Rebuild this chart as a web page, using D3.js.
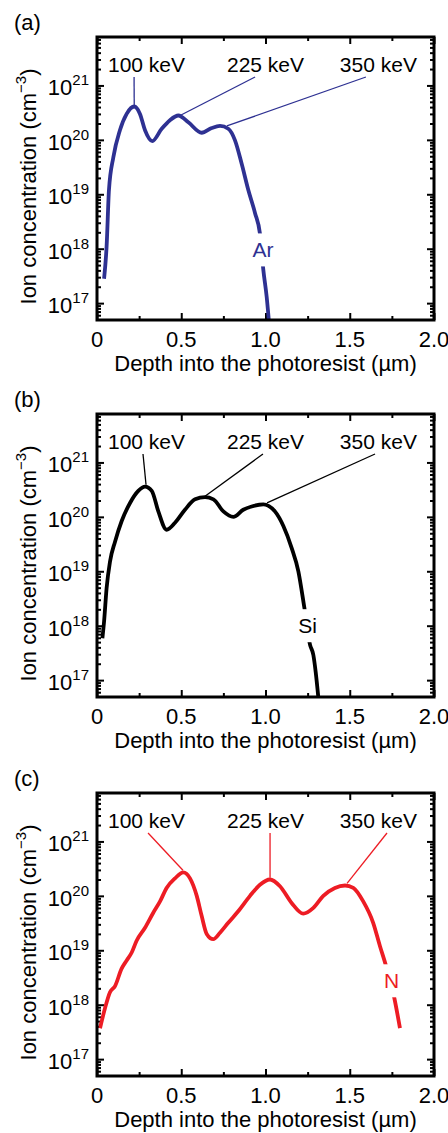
<!DOCTYPE html>
<html>
<head>
<meta charset="utf-8">
<script src="https://cdn.jsdelivr.net/npm/d3@7"></script>
<style>
  body { margin: 0; background: #fff; }
  text { font-family: "Liberation Sans", Arial, Helvetica, sans-serif; }
</style>
</head>
<body>
<div id="chart"></div>
<script>
// 패널별 데이터 (깊이: µm, 농도: cm^-3)
const arDepth = [0.042, 0.057, 0.071, 0.097, 0.136, 0.176, 0.221, 0.255, 0.285, 0.328, 0.384, 0.433, 0.483,
  0.542, 0.621, 0.681, 0.730, 0.779, 0.819, 0.859, 0.898, 0.938, 0.967, 0.987, 1.007, 1.022];
const arConc = [2.8e17, 1.1e18, 1.2e19, 4.8e19, 1.5e20, 3.0e20, 4.1e20, 3.0e20, 1.5e20, 9.5e19, 1.6e20, 2.3e20, 2.8e20,
  2.1e20, 1.35e20, 1.65e20, 1.8e20, 1.6e20, 9.8e19, 3.6e19, 1.2e19, 4.5e18, 1.9e18, 4.1e17, 1.3e17, 4.0e16];

const siDepth = [0.032, 0.042, 0.057, 0.077, 0.107, 0.146, 0.196, 0.245, 0.285, 0.325, 0.364, 0.413, 0.463,
  0.522, 0.582, 0.641, 0.691, 0.750, 0.809, 0.868, 0.918, 0.987, 1.056, 1.106, 1.155, 1.195, 1.230, 1.264,
  1.284, 1.298, 1.316];
const siConc = [5.9e17, 1.2e18, 4.9e18, 1.5e19, 3.5e19, 8.3e19, 1.8e20, 3.0e20, 3.6e20, 3.0e20, 1.26e20, 5.8e19, 7.8e19,
  1.35e20, 2.1e20, 2.3e20, 2.1e20, 1.26e20, 1.0e20, 1.35e20, 1.55e20, 1.7e20, 1.26e20, 6.8e19, 2.7e19, 1.0e19, 2.2e18, 4.5e17,
  2.9e17, 1.4e17, 4.0e16];

const nDepth = [0.018, 0.047, 0.077, 0.107, 0.146, 0.176, 0.206, 0.235, 0.285, 0.334, 0.374, 0.413, 0.463, 0.512,
  0.552, 0.592, 0.621, 0.651, 0.690, 0.730, 0.779, 0.838, 0.908, 0.967, 1.027, 1.086, 1.155, 1.224, 1.284,
  1.343, 1.412, 1.472, 1.521, 1.580, 1.639, 1.679, 1.715, 1.763, 1.798];
const nConc = [3.7e17, 8.5e17, 1.7e18, 2.2e18, 4.6e18, 6.5e18, 9.1e18, 1.5e19, 2.6e19, 4.9e19, 7.9e19, 1.4e20, 2.1e20, 2.7e20,
  2.1e20, 1.0e20, 4.3e19, 2.0e19, 1.6e19, 2.1e19, 3.2e19, 5.2e19, 1.0e20, 1.6e20, 2.0e20, 1.5e20, 7.4e19, 4.7e19, 6.0e19,
  1.0e20, 1.4e20, 1.55e20, 1.4e20, 7.9e19, 3.2e19, 1.2e19, 5.2e18, 1.4e18, 3.7e17];

// 에너지 라벨과 지시선
const energyLabels = ["100 keV", "225 keV", "350 keV"];
const arLeaderTop = [0.220, 0.938, 1.596];
const arLeaderEnd = [[0.221, 4.3e20], [0.493, 2.8e20], [0.771, 1.8e20]];
const siLeaderTop = [0.273, 0.985, 1.650];
const siLeaderEnd = [[0.291, 3.9e20], [0.641, 2.4e20], [1.009, 1.8e20]];
const nLeaderTop = [0.303, 1.027, 1.721];
const nLeaderEnd = [[0.510, 2.95e20], [1.027, 2.15e20], [1.484, 1.7e20]];

// 축 눈금
const xTicks = [0, 0.5, 1.0, 1.5, 2.0];
const xTickLabels = ["0", "0.5", "1.0", "1.5", "2.0"];
const xMinorTicks = [0.25, 0.75, 1.25, 1.75];
const yExponents = [17, 18, 19, 20, 21];

const panels = [
  { tag: "(a)", ion: "Ar", color: "#2e3192", depth: arDepth, conc: arConc, leaderTop: arLeaderTop, leaderEnd: arLeaderEnd, ionAt: [0.985, 9.5e17] },
  { tag: "(b)", ion: "Si", color: "#000000", depth: siDepth, conc: siConc, leaderTop: siLeaderTop, leaderEnd: siLeaderEnd, ionAt: [1.25, 1.0e18] },
  { tag: "(c)", ion: "N", color: "#ed1c24", depth: nDepth, conc: nConc, leaderTop: nLeaderTop, leaderEnd: nLeaderEnd, ionAt: [1.749, 2.75e18] }
];

// 레이아웃
const W = 448, H = 1133;
const plotLeft = 97, plotW = 337, plotH = 283;
const panelTops = [37, 414, 793];
const labelX = [0.294, 1.0, 1.67];

const svg = d3.select("#chart").append("svg")
  .attr("width", W).attr("height", H)
  .style("background", "white");

const x = d3.scaleLinear().domain([0, 2]).range([0, plotW]);
const y = d3.scaleLog().domain([Math.pow(10, 16.69), Math.pow(10, 21.89)]).range([plotH, 0]);

// 로그 보조 눈금
const yMinor = [];
for (let e = 16; e <= 21; e++) {
  for (let m = 2; m <= 9; m++) {
    const v = m * Math.pow(10, e);
    if (v >= y.domain()[0] && v <= y.domain()[1]) yMinor.push(v);
  }
}

svg.append("defs").append("clipPath").attr("id", "plot-clip")
  .append("rect").attr("width", plotW).attr("height", plotH);

function drawPanel(p, i) {
  const g = svg.append("g").attr("transform", `translate(${plotLeft},${panelTops[i]})`);

  // 안쪽 눈금 (4면)
  const tickStyle = sel => {
    sel.select(".domain").remove();
    sel.selectAll("line").attr("stroke", "#000").attr("stroke-width", 2);
  };
  g.append("g").attr("transform", `translate(0,${plotH})`)
    .call(d3.axisBottom(x).tickValues(xTicks).tickSize(-7).tickFormat("")).call(tickStyle);
  g.append("g").attr("transform", `translate(0,${plotH})`)
    .call(d3.axisBottom(x).tickValues(xMinorTicks).tickSize(-4).tickFormat("")).call(tickStyle);
  g.append("g").call(d3.axisTop(x).tickValues(xTicks).tickSize(-7).tickFormat("")).call(tickStyle);
  g.append("g").call(d3.axisTop(x).tickValues(xMinorTicks).tickSize(-4).tickFormat("")).call(tickStyle);

  const yMajor = yExponents.map(e => Math.pow(10, e));
  g.append("g").call(d3.axisLeft(y).tickValues(yMajor).tickSize(-7).tickFormat("")).call(tickStyle);
  g.append("g").call(d3.axisLeft(y).tickValues(yMinor).tickSize(-4).tickFormat("")).call(tickStyle);
  g.append("g").attr("transform", `translate(${plotW},0)`)
    .call(d3.axisRight(y).tickValues(yMajor).tickSize(-7).tickFormat("")).call(tickStyle);
  g.append("g").attr("transform", `translate(${plotW},0)`)
    .call(d3.axisRight(y).tickValues(yMinor).tickSize(-4).tickFormat("")).call(tickStyle);

  // x 눈금 라벨
  g.selectAll(".xlab").data(xTicks).enter().append("text")
    .attr("x", d => x(d)).attr("y", plotH + 27)
    .attr("text-anchor", "middle").attr("font-size", 22)
    .text((d, k) => xTickLabels[k]);

  // y 눈금 라벨 10^n
  const yl = g.selectAll(".ylab").data(yExponents).enter().append("text")
    .attr("x", -8).attr("y", d => y(Math.pow(10, d)) + 10)
    .attr("text-anchor", "end").attr("font-size", 22);
  yl.append("tspan").text("10");
  yl.append("tspan").attr("font-size", 15).attr("dy", -10).text(d => d);

  // 축 제목
  g.append("text").attr("x", plotW / 2).attr("y", plotH + 51)
    .attr("text-anchor", "middle").attr("font-size", 22)
    .text("Depth into the photoresist (µm)");
  const yt = g.append("text")
    .attr("transform", `translate(${36 - plotLeft},${plotH / 2 + 8}) rotate(-90)`)
    .attr("text-anchor", "middle").attr("font-size", 22);
  yt.append("tspan").text("Ion concentration (cm");
  yt.append("tspan").attr("font-size", 15).attr("dy", -10).text("−3");
  yt.append("tspan").attr("dy", 10).text(")");

  // 패널 태그
  svg.append("text").attr("x", 14).attr("y", panelTops[i] - 7)
    .attr("font-size", 22).text(p.tag);

  // 곡선
  const pts = p.depth.map((d, k) => [d, p.conc[k]]);
  g.append("path").datum(pts)
    .attr("clip-path", "url(#plot-clip)")
    .attr("fill", "none").attr("stroke", p.color)
    .attr("stroke-width", 3.8).attr("stroke-linejoin", "round")
    .attr("d", d3.line().x(d => x(d[0])).y(d => y(d[1])).curve(d3.curveMonotoneX));

  // 이온 라벨 (선 위에 흰 배경)
  const ion = g.append("g");
  const ionText = ion.append("text")
    .attr("x", x(p.ionAt[0])).attr("y", y(p.ionAt[1]))
    .attr("text-anchor", "middle").attr("dominant-baseline", "central")
    .attr("font-size", 21).attr("fill", p.color).text(p.ion);
  const bb = ionText.node().getBBox();
  ion.insert("rect", "text")
    .attr("x", bb.x - 1).attr("y", bb.y - 5)
    .attr("width", bb.width + 2).attr("height", bb.height + 10)
    .attr("fill", "white");

  // 에너지 라벨 + 지시선
  g.selectAll(".elab").data(energyLabels).enter().append("text")
    .attr("x", (d, k) => x(labelX[k])).attr("y", 35)
    .attr("text-anchor", "middle").attr("font-size", 21)
    .text(d => d);
  g.selectAll(".leader").data(p.leaderEnd).enter().append("line")
    .attr("x1", (d, k) => x(p.leaderTop[k])).attr("y1", 40)
    .attr("x2", d => x(d[0])).attr("y2", d => y(d[1]))
    .attr("stroke", p.color).attr("stroke-width", 1.3);

  // 테두리
  g.append("rect").attr("width", plotW).attr("height", plotH)
    .attr("fill", "none").attr("stroke", "#000").attr("stroke-width", 3);
}

panels.forEach(drawPanel);
</script>
</body>
</html>
